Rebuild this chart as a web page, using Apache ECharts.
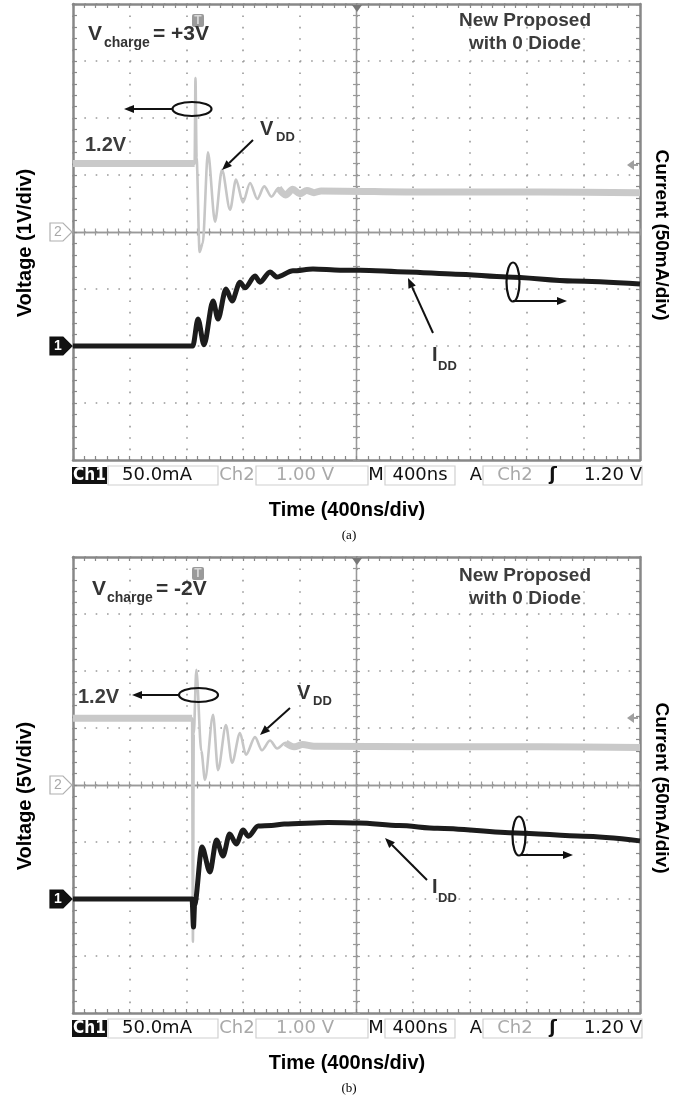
<!DOCTYPE html>
<html><head><meta charset="utf-8">
<script src="https://cdn.jsdelivr.net/npm/echarts/dist/echarts.min.js"></script>
<style>html,body{margin:0;padding:0;background:#fff}#c{width:685px;height:1099px}</style>
</head><body><div id="c"></div>
<script>
// ---- Data (time in ns, 400 ns/div; Ch2 = VDD in V, Ch1 = IDD in mA) ----
// Panel (a): Vcharge = +3V
const vddA_t = [0, 858, 864, 872, 893, 915, 952, 1002, 1051, 1108, 1150, 1199, 1249, 1300, 1349, 1400, 1450, 1500, 1550, 1600, 1650, 1700, 1750, 2500, 3300, 4000];
const vddA_v = [1.20, 1.20, 2.70, 1.30, -0.35, -0.20, 1.40, 0.18, 1.09, 0.39, 0.92, 0.52, 0.86, 0.58, 0.80, 0.62, 0.77, 0.65, 0.75, 0.67, 0.73, 0.69, 0.72, 0.70, 0.70, 0.69];
const iddA_t = [0, 845, 882, 924, 988, 1023, 1079, 1122, 1178, 1213, 1284, 1319, 1390, 1439, 1552, 1693, 1884, 2025, 2356, 2700, 3062, 3527, 4000];
const iddA_v = [0, 0, 23.7, 1.0, 39.5, 23.7, 50.0, 39.5, 56.0, 51.0, 61.4, 56.0, 65.0, 60.5, 66.0, 67.5, 66.5, 66.5, 65.0, 63.0, 60.5, 57.0, 54.4];
// Panel (b): Vcharge = -2V
const vddB_t = [0, 840, 846, 852, 870, 905, 931, 988, 1023, 1079, 1122, 1178, 1220, 1284, 1333, 1390, 1440, 1500, 1560, 1620, 1700, 2500, 3300, 4000];
const vddB_v = [1.17, 1.17, -2.75, 0.90, 2.02, 0.60, 0.09, 1.23, 0.26, 1.05, 0.39, 0.91, 0.53, 0.84, 0.61, 0.78, 0.64, 0.74, 0.67, 0.71, 0.68, 0.67, 0.67, 0.66];
const iddB_t = [0, 840, 850, 858, 910, 966, 1012, 1058, 1105, 1152, 1200, 1238, 1306, 1400, 1490, 1800, 2018, 2300, 2571, 3126, 3600, 4000];
const iddB_v = [0, 0, -24.6, -5.0, 45.6, 23.7, 51.8, 37.7, 57.0, 48.2, 60.5, 55.0, 64.0, 64.5, 65.8, 67.0, 66.7, 64.5, 62.0, 58.0, 55.0, 51.0];

// Scope scales
const timeRange = [0, 4000];      // 10 div x 400 ns
const ch2Range = [-4, 4];         // 1 V/div, ch2 ground at centre
const ch1Range = [-100, 300];     // 50 mA/div, ch1 ground 2 div below centre
// Status bar texts
const statusA = ['Ch1', '50.0mA', 'Ch2', '1.00 V', 'M', '400ns', 'A', 'Ch2', 'ʃ', '1.20 V'];
const panelTexts = [
  {charge: '= +3V', vlabel: 'Voltage (1V/div)', tag: '(a)'},
  {charge: '= -2V', vlabel: 'Voltage (5V/div)', tag: '(b)'}
];

const pairs = (t, v) => t.map((x, i) => [x, v[i]]);
const band = (t, v, lo, hi) => t.map((x, i) => (x <= lo || x >= hi) ? [x, v[i]] : [x, null]);

const BORDER = '#888', DOT = '#999', CENTER = '#999';
const GRID_TOP = [4, 557];
const xAxes = [], yAxes = [], grids = [], series = [];

for (let g = 0; g < 2; g++) {
  grids.push({left: 73, top: GRID_TOP[g], width: 567, height: 456, outerBoundsMode: 'none'});
  const xb = g * 5, yb = g * 6;
  const tickCommon = {show: true, length: 4, lineStyle: {color: BORDER, width: 1.2}};
  const minorCommon = {show: true, splitNumber: 5, length: 4, lineStyle: {color: BORDER, width: 1.2}};
  // x axes
  xAxes.push({gridIndex: g, type: 'value', min: timeRange[0], max: timeRange[1], interval: 400, show: false});
  xAxes.push({gridIndex: g, type: 'value', min: -5, max: 5, interval: 1, position: 'bottom',
    axisLine: {show: true, onZero: false, lineStyle: {color: BORDER, width: 2.5}},
    axisTick: Object.assign({inside: true}, tickCommon), minorTick: minorCommon,
    axisLabel: {show: false},
    splitLine: {show: true, lineStyle: {color: DOT, width: 1.6, type: [1.6, 9.8]}}});
  xAxes.push({gridIndex: g, type: 'value', min: -5, max: 5, interval: 1, position: 'top',
    axisLine: {show: true, onZero: false, lineStyle: {color: BORDER, width: 2.5}},
    axisTick: Object.assign({inside: true}, tickCommon), minorTick: minorCommon,
    axisLabel: {show: false}, splitLine: {show: false}});
  for (const ins of [false, true]) {
    xAxes.push({gridIndex: g, type: 'value', min: -5, max: 5, interval: 1, position: 'bottom',
      axisLine: {show: true, onZero: true, onZeroAxisIndex: yb + 2, lineStyle: {color: CENTER, width: 1.3}},
      axisTick: {show: true, inside: ins, length: 3.5, lineStyle: {color: CENTER, width: 1.2}},
      minorTick: {show: true, splitNumber: 5, length: 3.5, lineStyle: {color: CENTER, width: 1.2}},
      axisLabel: {show: false}, splitLine: {show: false}});
  }
  // y axes
  yAxes.push({gridIndex: g, type: 'value', min: ch2Range[0], max: ch2Range[1], show: false});
  yAxes.push({gridIndex: g, type: 'value', min: ch1Range[0], max: ch1Range[1], show: false});
  yAxes.push({gridIndex: g, type: 'value', min: -4, max: 4, interval: 1, position: 'left',
    axisLine: {show: true, onZero: false, lineStyle: {color: BORDER, width: 2.5}},
    axisTick: Object.assign({inside: true}, tickCommon), minorTick: minorCommon,
    axisLabel: {show: false},
    splitLine: {show: true, lineStyle: {color: DOT, width: 1.6, type: [1.6, 9.74]}}});
  yAxes.push({gridIndex: g, type: 'value', min: -4, max: 4, interval: 1, position: 'right',
    axisLine: {show: true, onZero: false, lineStyle: {color: BORDER, width: 2.5}},
    axisTick: Object.assign({inside: true}, tickCommon), minorTick: minorCommon,
    axisLabel: {show: false}, splitLine: {show: false}});
  for (const ins of [false, true]) {
    yAxes.push({gridIndex: g, type: 'value', min: -4, max: 4, interval: 1, position: 'left',
      axisLine: {show: true, onZero: true, onZeroAxisIndex: xb + 1, lineStyle: {color: CENTER, width: 1.3}},
      axisTick: {show: true, inside: ins, length: 3.5, lineStyle: {color: CENTER, width: 1.2}},
      minorTick: {show: true, splitNumber: 5, length: 3.5, lineStyle: {color: CENTER, width: 1.2}},
      axisLabel: {show: false}, splitLine: {show: false}});
  }
  const vt = g ? vddB_t : vddA_t, vv = g ? vddB_v : vddA_v;
  const it = g ? iddB_t : iddA_t, iv = g ? iddB_v : iddA_v;
  const lineBase = {type: 'line', xAxisIndex: xb, showSymbol: false, silent: true, animation: false, smooth: 0.3, smoothMonotone: 'x'};
  series.push(Object.assign({}, lineBase, {name: 'VDD', yAxisIndex: yb, data: pairs(vt, vv), z: 3,
    lineStyle: {color: '#c6c6c6', width: 2.6}}));
  series.push(Object.assign({}, lineBase, {name: 'VDD band', yAxisIndex: yb, data: band(vt, vv, vt[1], 1450), z: 3,
    lineStyle: {color: '#c9c9c9', width: 7}}));
  series.push(Object.assign({}, lineBase, {name: 'IDD', yAxisIndex: yb + 1, data: pairs(it, iv), z: 4,
    lineStyle: {color: '#1c1c1c', width: 5}}));
}

// ---- Graphic decoration (labels, markers, annotations) ----
const FONT = '"Liberation Sans", Arial, sans-serif';
const SCOPE = '"DejaVu Sans", sans-serif';
const G = [];
function txt(x, y, text, size, color, opts) {
  opts = opts || {};
  G.push({type: 'text', x: x, y: y, rotation: opts.rot || 0, z: 100,
    style: {text: text, fill: color, fontSize: size, fontFamily: opts.family || FONT,
      fontWeight: opts.weight || 'bold', align: opts.align || 'left', verticalAlign: opts.va || 'middle'}});
}
function line(x1, y1, x2, y2, color, w) {
  G.push({type: 'line', z: 100, shape: {x1, y1, x2, y2}, style: {stroke: color, lineWidth: w}});
}
function arrow(x1, y1, x2, y2) {
  const a = Math.atan2(y2 - y1, x2 - x1), c = Math.cos(a), s = Math.sin(a);
  const L = 10, W = 4, bx = x2 - L * c, by = y2 - L * s;
  line(x1, y1, bx, by, '#111', 2);
  G.push({type: 'polygon', z: 100, shape: {points: [[x2, y2], [bx - s * W, by + c * W], [bx + s * W, by - c * W]]}, style: {fill: '#111'}});
}
function ellipse(cx, cy, rx, ry) {
  G.push({type: 'ellipse', z: 100, shape: {cx, cy, rx, ry}, style: {fill: null, stroke: '#111', lineWidth: 2.2}});
}
function rect(x, y, w, h, fill, stroke) {
  G.push({type: 'rect', z: 99, shape: {x, y, width: w, height: h}, style: {fill: fill || null, stroke: stroke || null, lineWidth: 1.2}});
}
function poly(points, fill, stroke) {
  G.push({type: 'polygon', z: 100, shape: {points}, style: {fill: fill || null, stroke: stroke || null, lineWidth: 1.2}});
}

const ann = [
  {V: [88, 34], sub: [104, 43], eq: [153, 34], np: 21, lbl12: [85, 145], ell: [192, 109, 19.5, 7], arr1: [172, 109, 124, 109],
   vdd: [260, 129], arr2: [253, 140, 222, 170], idd: [432, 355], arr3: [433, 333, 408, 278], ell2: [513, 282, 6.5, 19.5], arr4: [513, 301, 567, 301]},
  {V: [92, 589], sub: [107, 598], eq: [156, 589], np: 576, lbl12: [78, 697], ell: [198.5, 695, 19.5, 7], arr1: [179, 695, 132, 695],
   vdd: [297, 693], arr2: [290, 708, 260, 735], idd: [432, 887], arr3: [427, 880, 385, 838], ell2: [519, 836, 6.5, 19.5], arr4: [520, 855, 573, 855]}
];

for (let g = 0; g < 2; g++) {
  const dy = g * 553, a = ann[g], top = GRID_TOP[g];
  // axis labels
  txt(25, 243 + dy, panelTexts[g].vlabel, 20, '#000', {rot: Math.PI / 2, align: 'center'});
  txt(661, 235 + dy, 'Current (50mA/div)', 19, '#000', {rot: -Math.PI / 2, align: 'center'});
  txt(347, 510 + dy, 'Time (400ns/div)', 20, '#000', {align: 'center'});
  txt(349, 536 + dy, panelTexts[g].tag, 13, '#000', {align: 'center', weight: 'normal', family: '"Liberation Serif", serif'});
  // status bar
  const sy = 467 + dy;
  rect(72, sy, 35, 17, '#111');
  txt(89.5, sy + 8.5, statusA[0], 17, '#fff', {align: 'center', family: '"DejaVu Sans Condensed", "DejaVu Sans", sans-serif'});
  rect(108, sy - 1, 110, 19, null, '#d0d0d0');
  txt(157, sy + 8.5, statusA[1], 18, '#111', {align: 'center', family: SCOPE, weight: 'normal'});
  txt(237, sy + 8.5, statusA[2], 18, '#a9a9a9', {align: 'center', family: SCOPE, weight: 'normal'});
  rect(256, sy - 1, 112, 19, null, '#d0d0d0');
  txt(305, sy + 8.5, statusA[3], 18, '#a9a9a9', {align: 'center', family: SCOPE, weight: 'normal'});
  txt(376, sy + 8.5, statusA[4], 18, '#111', {align: 'center', family: SCOPE, weight: 'normal'});
  rect(385, sy - 1, 70, 19, null, '#d0d0d0');
  txt(420, sy + 8.5, statusA[5], 18, '#111', {align: 'center', family: SCOPE, weight: 'normal'});
  txt(476, sy + 8.5, statusA[6], 18, '#111', {align: 'center', family: SCOPE, weight: 'normal'});
  rect(483, sy - 1, 159, 19, null, '#d0d0d0');
  txt(515, sy + 8.5, statusA[7], 18, '#a9a9a9', {align: 'center', family: SCOPE, weight: 'normal'});
  txt(553, sy + 8.5, statusA[8], 18, '#111', {align: 'center', family: SCOPE, weight: 'bold'});
  txt(642, sy + 8.5, statusA[9], 18, '#111', {align: 'right', family: SCOPE, weight: 'normal'});
  // channel markers
  const c2 = top + 228, c1 = top + 342;
  poly([[50, c2 - 9], [63, c2 - 9], [72, c2], [63, c2 + 9], [50, c2 + 9]], '#fff', '#b0b0b0');
  txt(58, c2, '2', 14, '#a8a8a8', {align: 'center', weight: 'normal'});
  poly([[50, c1 - 9], [63, c1 - 9], [72, c1], [63, c1 + 9], [50, c1 + 9]], '#111', '#111');
  txt(58, c1, '1', 14, '#fff', {align: 'center'});
  // trigger markers
  G.push({type: 'rect', z: 98, shape: {x: 192, y: top + 10, width: 12, height: 13, r: 2}, style: {fill: '#9a9a9a'}});
  txt(198, top + 16.5, 'T', 12, '#d8d8d8', {align: 'center'});
  poly([[352, top + 1], [362, top + 1], [357, top + 8]], '#777');
  poly([[627, top + 161], [634, top + 156], [634, top + 166]], '#a0a0a0');
  line(633, top + 161, 638, top + 161, '#a0a0a0', 2);
  // annotations
  txt(a.V[0], a.V[1], 'V', 21, '#333');
  txt(a.sub[0], a.sub[1], 'charge', 14, '#333');
  txt(a.eq[0], a.eq[1], panelTexts[g].charge, 21, '#333');
  txt(525, a.np, 'New Proposed', 19, '#3c3c3c', {align: 'center'});
  txt(525, a.np + 23, 'with 0 Diode', 19, '#3c3c3c', {align: 'center'});
  txt(a.lbl12[0], a.lbl12[1], '1.2V', 20, '#3c3c3c');
  ellipse(a.ell[0], a.ell[1], a.ell[2], a.ell[3]);
  arrow(a.arr1[0], a.arr1[1], a.arr1[2], a.arr1[3]);
  txt(a.vdd[0], a.vdd[1], 'V', 20, '#333');
  txt(a.vdd[0] + 16, a.vdd[1] + 8, 'DD', 13, '#333');
  arrow(a.arr2[0], a.arr2[1], a.arr2[2], a.arr2[3]);
  txt(a.idd[0], a.idd[1], 'I', 20, '#333');
  txt(a.idd[0] + 6, a.idd[1] + 11, 'DD', 13, '#333');
  arrow(a.arr3[0], a.arr3[1], a.arr3[2], a.arr3[3]);
  ellipse(a.ell2[0], a.ell2[1], a.ell2[2], a.ell2[3]);
  arrow(a.arr4[0], a.arr4[1], a.arr4[2], a.arr4[3]);
}

const chart = echarts.init(document.getElementById('c'), null, {renderer: 'canvas'});
chart.setOption({
  animation: false,
  backgroundColor: '#fff',
  grid: grids, xAxis: xAxes, yAxis: yAxes, series: series,
  graphic: {elements: G}
});
</script></body></html>
